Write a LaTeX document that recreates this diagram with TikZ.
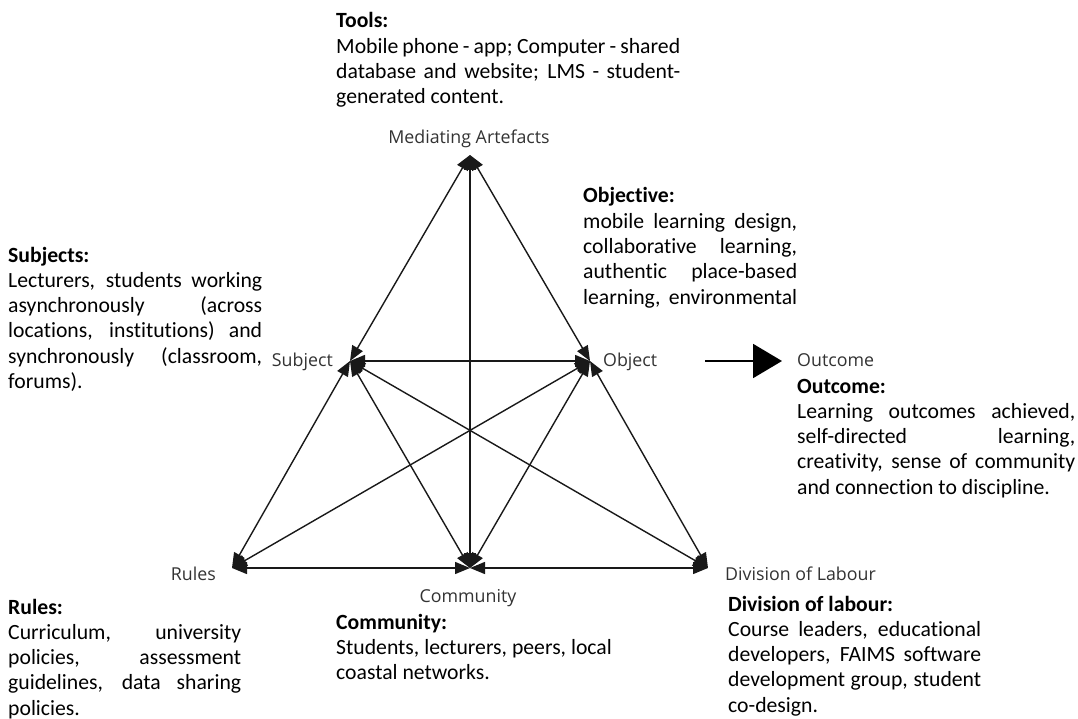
\documentclass[tikz,border=0pt]{standalone}
\usepackage{fontspec}
\setmainfont{Carlito}[Ligatures=CommonOff]
\newfontfamily\labelfont{Open Sans}
\usetikzlibrary{arrows.meta}
\newlength\jw
\newcommand\natsp{\spaceskip=0pt\xspaceskip=0pt\relax}
\newcommand\jline[1]{\makebox[\jw][s]{\natsp #1}\\}
\begin{document}
\begin{tikzpicture}[x=1pt,y=-1pt,
  body/.style={anchor=base west, inner sep=0pt, text width=#1, align=left,
    font=\fontsize{21.7}{25.3}\selectfont},
  lbl/.style={inner sep=0pt, font=\labelfont\fontsize{17.8}{20}\selectfont, text=black!80},
  rel/.style={line width=1.4pt, draw=black!90,
    {Triangle[length=15pt,width=12pt]}-{Triangle[length=15pt,width=12pt]}},
  flow/.style={line width=2pt, -{Triangle[length=29pt,width=34pt]}}]
\path[use as bounding box, fill=white] (0,0) rectangle (1078,719);

% activity system points
\coordinate (M) at (470,155);
\coordinate (S) at (350,361);
\coordinate (O) at (590,361);
\coordinate (R) at (232,568);
\coordinate (C) at (470,568);
\coordinate (D) at (708,568);

% relations
\draw[rel] (M) -- (S);
\draw[rel] (M) -- (O);
\draw[rel] (M) -- (C);
\draw[rel] (S) -- (O);
\draw[rel] (S) -- (R);
\draw[rel] (S) -- (C);
\draw[rel] (S) -- (D);
\draw[rel] (O) -- (R);
\draw[rel] (O) -- (C);
\draw[rel] (O) -- (D);
\draw[rel] (R) -- (C);
\draw[rel] (C) -- (D);

% outcome arrow
\coordinate (oa1) at (705,361);
\coordinate (oa2) at (782,361);
\draw[flow] (oa1) -- (oa2);

% point labels
\node[lbl, anchor=base] (lM) at (469,144) {Mediating Artefacts};
\node[lbl, anchor=base east] (lS) at (333,366) {Subject};
\node[lbl, anchor=base west] (lO) at (603,366) {Object};
\node[lbl, anchor=base west] (lOut) at (797,366) {Outcome};
\node[lbl, anchor=base east] (lR) at (216,580) {Rules};
\node[lbl, anchor=base] (lC) at (468,602) {Community};
\node[lbl, anchor=base west] (lD) at (725,580) {Division of Labour};

% descriptive texts
\node[body=344pt] (tTools) at (336,28) {\natsp\setlength\jw{344pt}\textbf{Tools:}\\
\jline{Mobile phone - app; Computer - shared}
\jline{database and website; LMS - student-}
generated content.};

\node[body=254pt] (tSubj) at (8,262) {\natsp\setlength\jw{254pt}\textbf{Subjects:}\\
\jline{Lecturers, students working}
\jline{asynchronously (across}
\jline{locations, institutions) and}
\jline{synchronously (classroom,}
forums).};

\node[body=214pt] (tObj) at (583,203) {\natsp\setlength\jw{214pt}\textbf{Objective:}\\
\jline{mobile learning design,}
\jline{collaborative learning,}
\jline{authentic place-based}
\makebox[\jw][s]{\natsp learning, environmental}};

\node[body=278pt] (tOut) at (797,393) {\natsp\setlength\jw{278pt}\textbf{Outcome:}\\
\jline{Learning outcomes achieved,}
\jline{self-directed learning,}
\jline{creativity, sense of community}
and connection to discipline.};

\node[body=233pt] (tRules) at (8,614) {\natsp\setlength\jw{233pt}\textbf{Rules:}\\
\jline{Curriculum, university}
\jline{policies, assessment}
\jline{guidelines, data sharing}
policies.};

\node[body=300pt] (tComm) at (336,629) {\natsp\textbf{Community:}\\
Students, lecturers, peers, local\\
coastal networks.};

\node[body=253pt] (tDiv) at (728,611) {\natsp\setlength\jw{253pt}\textbf{Division of labour:}\\
\jline{Course leaders, educational}
\jline{developers, FAIMS software}
\jline{development group, student}
co-design.};
\end{tikzpicture}
\end{document}
